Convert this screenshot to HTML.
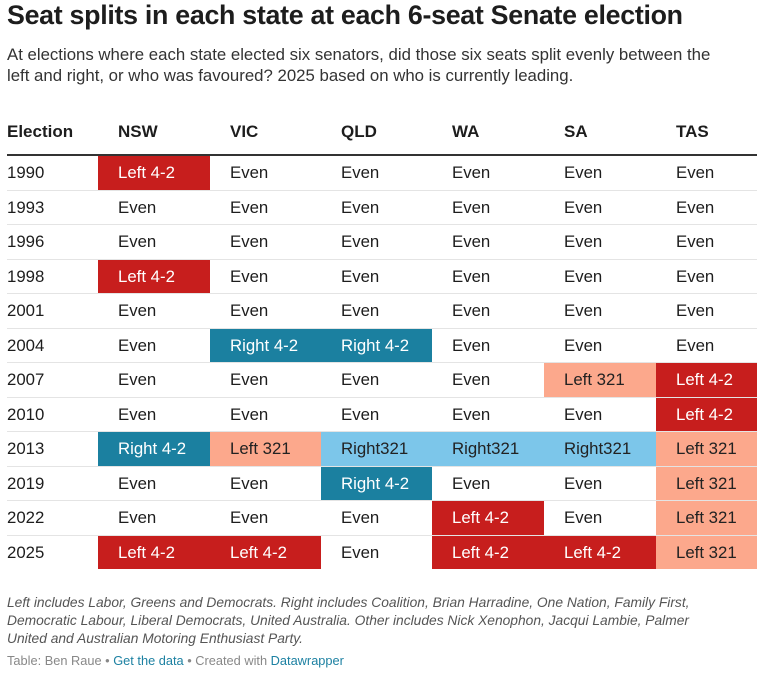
<!DOCTYPE html>
<html><head><meta charset="utf-8"><style>
body{margin:0;width:764px;height:673px;background:#fff;font-family:"Liberation Sans",sans-serif;color:#1d1d1d;position:relative;overflow:hidden}
.a{position:absolute;white-space:nowrap}
h1{position:absolute;left:7px;top:0;margin:0;font-size:26.8px;font-weight:bold;letter-spacing:-0.3px;line-height:30px}
.sub{left:7px;top:44px;font-size:16.8px;line-height:21px;color:#333;white-space:normal;width:722px}
.hd{font-size:17px;font-weight:bold;top:122px}
.cell{position:absolute;font-size:16.8px;box-sizing:border-box;padding-left:20px}
.note{left:7px;top:594px;font-size:13.8px;line-height:18px;font-style:italic;color:#555;white-space:normal;width:712px}
.foot{left:7px;top:653px;font-size:12.8px;color:#888}
.foot span{color:#1d81a2}
</style></head><body>
<h1>Seat splits in each state at each 6-seat Senate election</h1>
<div class="a sub">At elections where each state elected six senators, did those six seats split evenly between the left and right, or who was favoured? 2025 based on who is currently leading.</div>
<div id="tbl"></div>
<div class="a note">Left includes Labor, Greens and Democrats. Right includes Coalition, Brian Harradine, One Nation, Family First, Democratic Labour, Liberal Democrats, United Australia. Other includes Nick Xenophon, Jacqui Lambie, Palmer United and Australian Motoring Enthusiast Party.</div>
<div class="a foot">Table: Ben Raue • <span>Get the data</span> • Created with <span>Datawrapper</span></div>
<script>
const headers=["Election","NSW","VIC","QLD","WA","SA","TAS"];
const years=["1990","1993","1996","1998","2001","2004","2007","2010","2013","2019","2022","2025"];
const nsw=["Left 4-2","Even","Even","Left 4-2","Even","Even","Even","Even","Right 4-2","Even","Even","Left 4-2"];
const vic=["Even","Even","Even","Even","Even","Right 4-2","Even","Even","Left 321","Even","Even","Left 4-2"];
const qld=["Even","Even","Even","Even","Even","Right 4-2","Even","Even","Right321","Right 4-2","Even","Even"];
const wa=["Even","Even","Even","Even","Even","Even","Even","Even","Right321","Even","Left 4-2","Left 4-2"];
const sa=["Even","Even","Even","Even","Even","Even","Left 321","Even","Right321","Even","Even","Left 4-2"];
const tas=["Even","Even","Even","Even","Even","Even","Left 4-2","Left 4-2","Left 321","Left 321","Left 321","Left 321"];
const cols=[nsw,vic,qld,wa,sa,tas];
const colX=[7,98,210,321,432,544,656,757];
const top0=155,rowH=34.5;
const colors={"Left 4-2":["#c71e1d","#fff"],"Left 321":["#fca88c","#222"],"Right 4-2":["#1b80a0","#fff"],"Right321":["#7cc6ea","#222"]};
const t=document.getElementById('tbl');
headers.forEach((h,i)=>{const d=document.createElement('div');d.className='a hd';d.style.left=(i==0?7:colX[i]+20)+'px';d.textContent=h;


t.appendChild(d);});
const hl=document.createElement('div');hl.className='a';hl.style.cssText='left:7px;top:154px;width:750px;height:2px;background:#333';


t.appendChild(hl);
years.forEach((y,r)=>{const ty=top0+r*rowH;
if(r>0){const l=document.createElement('div');l.className='a';l.style.cssText=`left:7px;top:${ty}px;width:750px;height:1px;background:#e4e4e4`;


t.appendChild(l);}
const yd=document.createElement('div');yd.className='cell';yd.style.cssText=`left:7px;top:${ty+1}px;padding-left:0;height:${rowH-1}px;line-height:${rowH-1}px`;yd.textContent=y;


t.appendChild(yd);
cols.forEach((c,i)=>{const v=c[r];const d=document.createElement('div');d.className='cell';
const x=colX[i+1],w=colX[i+2]-x;const col=colors[v];
d.style.cssText=`left:${x}px;top:${ty+1}px;width:${w}px;height:${rowH-1}px;line-height:${rowH-1}px;`+(col?`background:${col[0]};color:${col[1]}`:'');
d.textContent=v;


t.appendChild(d);});
});
</script>
</body></html>
